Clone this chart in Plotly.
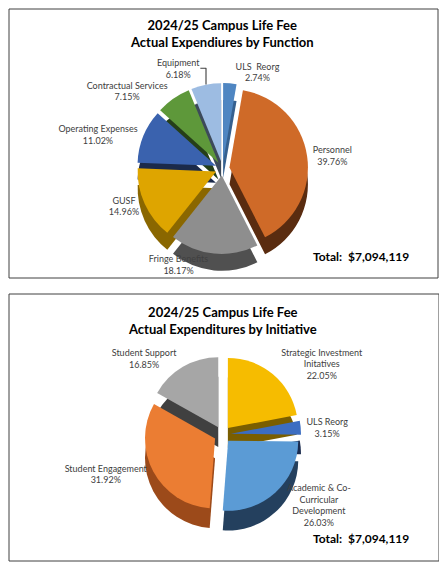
import plotly.graph_objects as go

# chart 1: by function
func_labels = ["ULS  Reorg", "Personnel", "Fringe Benefits", "GUSF",
               "Operating Expenses", "Contractual Services", "Equipment"]
func_pct = [2.74, 39.76, 18.17, 14.96, 11.02, 7.15, 6.18]
func_colors = ["#4F86C2", "#CF6A28", "#8E8E8E", "#DEA500", "#3A62AE", "#5E983A", "#9DBCE2"]
func_dark = ["#35608F", "#5A2C10", "#505050", "#8A6700", "#1B2A4A", "#253F18", "#3D4A5A"]

# chart 2: by initiative
init_labels = ["Strategic Investment<br>Initatives", "ULS Reorg",
               "Academic & Co-<br>Curricular<br>Development",
               "Student Engagement", "Student Support"]
init_pct = [22.05, 3.15, 26.03, 31.92, 16.85]
init_colors = ["#F6BC00", "#3C6DC1", "#5B9BD5", "#EB7D33", "#A6A6A6"]
init_dark = ["#7A5E00", "#1A2B4E", "#24405E", "#9C4A1A", "#404040"]

TOTAL = "Total:  $7,094,119"

FONT = "Lato"
# the page body adds an 8px margin, so the figure is a bit smaller than the window
OFF = 8
W, H = 447 - OFF, 570 - OFF


def px(x):
    return (x - OFF) / W


def py(y):
    return 1 - (y - OFF) / H


fig = go.Figure()


def add_pie(labels, values, colors, dark, dom_x, dom_y, rot, pull, depth):
    # darker copy underneath, shifted down a little, to fake the 3D edge
    fig.add_trace(go.Pie(
        labels=labels, values=values, sort=False, direction="clockwise",
        rotation=rot, pull=pull, automargin=False,
        marker=dict(colors=dark, line=dict(width=0)),
        textinfo="none", hoverinfo="skip", showlegend=False,
        domain=dict(x=dom_x, y=[dom_y[0] - depth, dom_y[1] - depth]),
    ))
    fig.add_trace(go.Pie(
        labels=labels, values=values, sort=False, direction="clockwise",
        rotation=rot, pull=pull, automargin=False,
        marker=dict(colors=colors, line=dict(width=0)),
        texttemplate="%{label}<br>%{value:.2f}%",
        textposition="outside",
        textfont=dict(family=FONT, size=9, color="#404040"),
        showlegend=False,
        domain=dict(x=dom_x, y=dom_y),
    ))


add_pie(func_labels, func_pct, func_colors, func_dark,
        [px(60), px(385)], [py(254), py(83)], 0, 0.09, 0.03)
add_pie(init_labels, init_pct, init_colors, init_dark,
        [px(60), px(385)], [py(513), py(356)], 0, 0.12, 0.035)

shapes = [
    dict(type="rect", xref="paper", yref="paper",
         x0=px(9), x1=px(438), y0=py(278), y1=py(9),
         line=dict(color="#404040", width=1)),
    dict(type="rect", xref="paper", yref="paper",
         x0=px(9), x1=px(439), y0=py(561), y1=py(294),
         line=dict(color="#404040", width=1)),
]

annotations = [
    dict(text="<b>2024/25 Campus Life Fee<br>Actual Expendiures by Function</b>",
         x=px(222), y=py(15), xref="paper", yref="paper",
         xanchor="center", yanchor="top",
         showarrow=False, font=dict(family=FONT, size=13, color="#000000")),
    dict(text="<b>2024/25 Campus Life Fee<br>Actual Expenditures by Initiative</b>",
         x=px(222), y=py(302), xref="paper", yref="paper",
         xanchor="center", yanchor="top",
         showarrow=False, font=dict(family=FONT, size=13, color="#000000")),
    dict(text="<b>" + TOTAL + "</b>", x=px(361), y=py(257), xref="paper", yref="paper",
         xanchor="center", yanchor="middle",
         showarrow=False, font=dict(family=FONT, size=12, color="#000000")),
    dict(text="<b>" + TOTAL + "</b>", x=px(361), y=py(538), xref="paper", yref="paper",
         xanchor="center", yanchor="middle",
         showarrow=False, font=dict(family=FONT, size=12, color="#000000")),
]

fig.update_layout(
    width=W, height=H,
    margin=dict(l=0, r=0, t=0, b=0, pad=0, autoexpand=False),
    paper_bgcolor="#FFFFFF",
    plot_bgcolor="#FFFFFF",
    shapes=shapes,
    annotations=annotations,
)

fig.write_html("out.html")
